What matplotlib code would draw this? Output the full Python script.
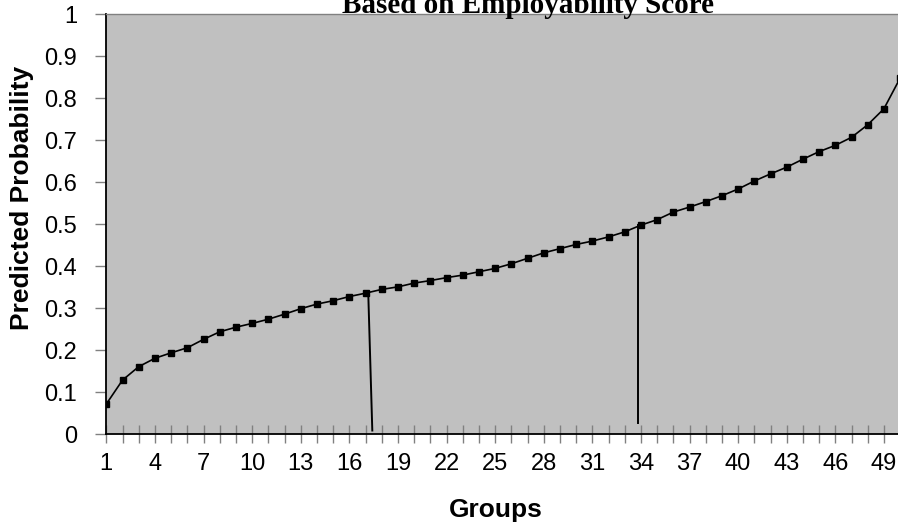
import matplotlib
matplotlib.use("Agg")
import matplotlib.pyplot as plt
import numpy as np

groups = list(range(1, 51))
predicted_probability = [
    0.072, 0.129, 0.161, 0.181, 0.194, 0.206, 0.226, 0.244, 0.255, 0.264,
    0.274, 0.286, 0.299, 0.310, 0.318, 0.328, 0.336, 0.345, 0.351, 0.360,
    0.366, 0.373, 0.379, 0.387, 0.395, 0.406, 0.419, 0.432, 0.442, 0.452,
    0.460, 0.470, 0.482, 0.498, 0.511, 0.529, 0.541, 0.554, 0.568, 0.584,
    0.603, 0.620, 0.636, 0.655, 0.673, 0.688, 0.707, 0.737, 0.775, 0.848,
]
# hand-drawn cut-off lines: (x_top, y_top, x_bottom, y_bottom)
cutoff_lines = [
    (17.17, 0.336, 17.42, 0.009),
    (33.80, 0.498, 33.80, 0.028),
]
x_tick_labels = [str(g) for g in range(1, 50, 3)]
y_ticks = [round(v, 1) for v in np.arange(0, 1.01, 0.1)]

W, H = 898, 527
fig = plt.figure(figsize=(W / 100, H / 100), dpi=100)
left, right, bottom, top = 106.3, 900.1, 434.3, 14.3
ax = fig.add_axes([left / W, 1 - bottom / H, (right - left) / W, (bottom - top) / H])
ax.set_facecolor("#c0c0c0")

ax.plot(groups, predicted_probability, color="black", linewidth=1.2,
        marker="s", markersize=4.6, markerfacecolor="black", markeredgecolor="black")
for x0, y0, x1, y1 in cutoff_lines:
    ax.plot([x0, x1], [y0, y1], color="black", linewidth=1.4)

ax.set_xlim(1, 50)
ax.set_ylim(0, 1)
ax.set_xticks(range(1, 50, 3))
ax.set_xticklabels(x_tick_labels)
ax.set_xticks(groups, minor=True)
ax.set_yticks(y_ticks)
ax.set_yticklabels([f"{v:g}" for v in y_ticks])

for s in ["left", "bottom"]:
    ax.spines[s].set_color("black")
    ax.spines[s].set_linewidth(1.3)
ax.spines["top"].set_color("#808080")
ax.spines["top"].set_linewidth(1.0)
ax.spines["right"].set_visible(False)

ax.tick_params(axis="x", which="both", direction="inout", length=13, width=1,
               color="#808080", labelsize=17, pad=7)
ax.tick_params(axis="y", direction="out", length=8, width=1, color="#808080",
               labelsize=17, pad=13)
for lab in ax.get_xticklabels() + ax.get_yticklabels():
    lab.set_fontfamily("Liberation Sans")

fig.text(21.7 / W, 1 - 198 / H, "Predicted Probability", rotation=90, ha="center",
         va="center", fontsize=19, fontweight="bold", family="Liberation Sans")
fig.text(496 / W, 1 - 510 / H, "Groups", ha="center", va="center", fontsize=19,
         fontweight="bold", family="Liberation Sans")
fig.text(527.5 / W, 1 - 13.3 / H, "Based on Employability Score", ha="center",
         va="baseline", fontsize=21, fontweight="bold", family="Liberation Serif")

fig.savefig("out.png", dpi=100)
